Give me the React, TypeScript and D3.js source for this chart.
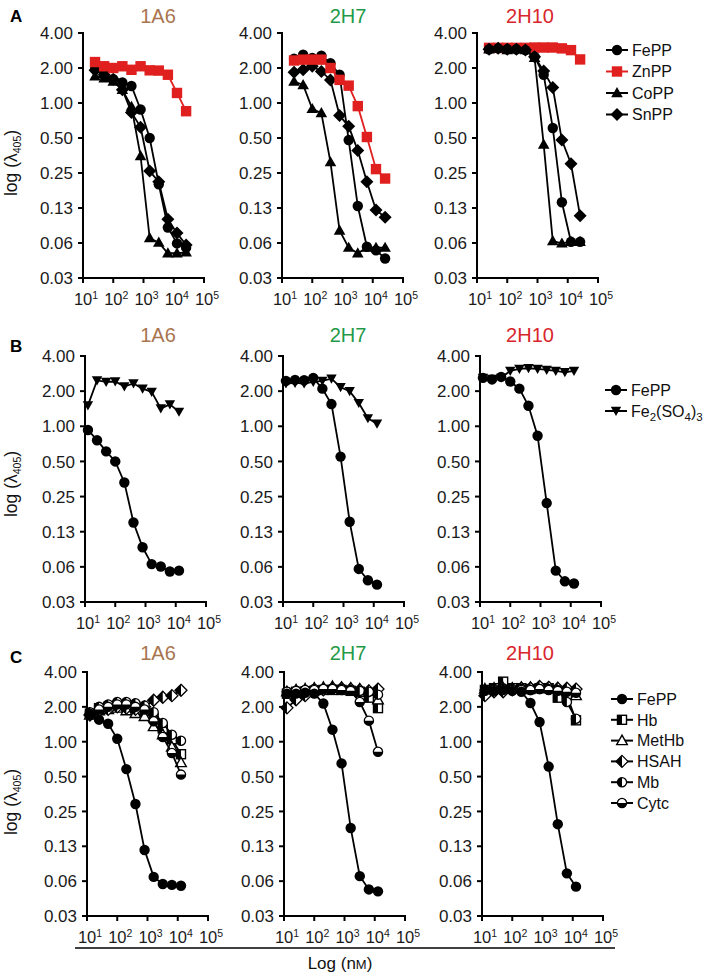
import React from 'react';
import * as d3 from 'd3';

// ---------- data ----------
const concA = [25, 50, 100, 200, 400, 800, 1600, 3200, 6400, 12800, 25600];
const concBC = [12.5, 25, 50, 100, 200, 400, 800, 1600, 3200, 6400, 12800];
const yTicks = [4, 2, 1, 0.5, 0.25, 0.125, 0.0625, 0.03125];
const yTickLabels = ['4.00', '2.00', '1.00', '0.50', '0.25', '0.13', '0.06', '0.03'];
const xTicks = [10, 100, 1000, 10000, 100000];
const xTickExps = ['1', '2', '3', '4', '5'];
const clones = ['1A6', '2H7', '2H10'];
const rowLetters = ['A', 'B', 'C'];
const seriesA = ['FePP', 'ZnPP', 'CoPP', 'SnPP'];
const seriesB = ['FePP', 'Fe2(SO4)3'];
const seriesC = ['FePP', 'Hb', 'MetHb', 'HSAH', 'Mb', 'Cytc'];

// Row A
const A_1A6_FePP = [1.95, 1.75, 1.6, 1.5, 1.4, 0.88, 0.5, 0.2, 0.085, 0.062, 0.057];
const A_1A6_ZnPP = [2.25, 2.07, 2.0, 2.07, 1.93, 2.07, 1.91, 1.9, 1.75, 1.22, 0.85];
const A_1A6_CoPP = [1.7, 1.63, 1.53, 1.3, 0.93, 0.35, 0.069, 0.063, 0.051, 0.051, 0.052];
const A_1A6_SnPP = [1.91, 1.75, 1.6, 1.3, 0.83, 0.62, 0.26, 0.21, 0.1, 0.076, 0.06];

const A_2H7_FePP = [2.4, 2.6, 2.44, 2.55, 2.2, 1.75, 0.48, 0.13, 0.058, 0.054, 0.046];
const A_2H7_ZnPP = [2.32, 2.36, 2.36, 2.36, 2.0, 1.58, 1.41, 0.94, 0.51, 0.27, 0.224];
const A_2H7_CoPP = [1.53, 1.43, 0.89, 0.82, 0.31, 0.08, 0.057, 0.051, 0.057, 0.057, 0.057];
const A_2H7_SnPP = [1.84, 1.93, 2.07, 1.87, 1.58, 0.78, 0.63, 0.39, 0.21, 0.12, 0.104];

const A_2H10_FePP = [2.9, 2.95, 2.9, 2.9, 2.85, 2.5, 1.75, 0.61, 0.14, 0.064, 0.064];
const A_2H10_ZnPP = [2.98, 2.98, 2.98, 2.98, 2.98, 3.0, 3.0, 3.0, 2.95, 2.85, 2.37];
const A_2H10_CoPP = [2.9, 2.95, 2.85, 2.9, 2.85, 2.45, 0.44, 0.065, 0.062, 0.064, 0.064];
const A_2H10_SnPP = [2.9, 2.95, 2.9, 2.9, 2.85, 2.5, 1.88, 1.36, 0.48, 0.3, 0.107];

// Row B
const B_1A6_FePP = [0.93, 0.76, 0.61, 0.5, 0.33, 0.15, 0.092, 0.066, 0.063, 0.057, 0.058];
const B_1A6_Fe2 = [1.51, 2.47, 2.4, 2.42, 2.19, 2.33, 2.1, 1.97, 1.42, 1.54, 1.33];
const B_2H7_FePP = [2.45, 2.5, 2.48, 2.6, 2.1, 1.55, 0.55, 0.152, 0.06, 0.048, 0.044];
const B_2H7_Fe2 = [2.32, 2.35, 2.32, 2.4, 2.45, 2.56, 2.16, 2.0, 1.58, 1.17, 1.05];
const B_2H10_FePP = [2.6, 2.52, 2.65, 2.42, 2.1, 1.5, 0.83, 0.22, 0.058, 0.047, 0.045];
const B_2H10_Fe2 = [2.6, 2.55, 2.6, 2.98, 3.1, 3.14, 3.1, 3.04, 2.98, 2.9, 2.98];

// Row C
const C_1A6_FePP = [1.75, 1.55, 1.43, 1.06, 0.58, 0.29, 0.116, 0.068, 0.059, 0.058, 0.057];
const C_1A6_Hb = [1.75, 1.95, 2.0, 2.05, 2.0, 2.0, 1.85, 1.6, 1.3, 1.05, 0.78];
const C_1A6_MetHb = [1.7, 1.85, 1.9, 1.95, 1.85, 1.75, 1.65, 1.35, 1.15, 0.9, 0.66];
const C_1A6_HSAH = [1.7, 1.85, 1.9, 2.0, 1.95, 1.9, 2.0, 2.28, 2.42, 2.5, 2.78];
const C_1A6_Mb = [1.8, 2.0, 2.1, 2.2, 2.2, 2.15, 2.05, 1.8, 1.45, 1.15, 1.02];
const C_1A6_Cytc = [1.7, 1.9, 2.0, 2.1, 2.1, 2.0, 1.9, 1.5, 1.1, 0.8, 0.52];

const C_2H7_FePP = [2.6, 2.6, 2.65, 2.6, 2.14, 1.27, 0.65, 0.18, 0.069, 0.053, 0.051];
const C_2H7_Hb = [2.6, 2.7, 2.7, 2.75, 2.8, 2.8, 2.8, 2.75, 2.7, 2.4, 1.95];
const C_2H7_MetHb = [2.7, 2.8, 2.85, 2.9, 2.95, 3.0, 2.95, 2.9, 2.85, 2.75, 2.3];
const C_2H7_HSAH = [1.96, 2.3, 2.5, 2.7, 2.8, 2.9, 2.9, 2.85, 2.8, 2.75, 2.85];
const C_2H7_Mb = [2.7, 2.75, 2.8, 2.85, 2.85, 2.9, 2.85, 2.8, 2.75, 2.7, 2.55];
const C_2H7_Cytc = [2.7, 2.75, 2.8, 2.8, 2.85, 2.85, 2.8, 2.75, 2.2, 1.52, 0.82];

const C_2H10_FePP = [2.78, 2.75, 2.8, 2.75, 2.7, 2.16, 1.48, 0.61, 0.194, 0.073, 0.056];
const C_2H10_Hb = [2.8, 2.9, 3.3, 2.9, 2.9, 2.85, 2.9, 2.9, 2.4, 2.5, 1.53];
const C_2H10_MetHb = [2.85, 2.9, 2.9, 2.9, 2.95, 2.95, 2.95, 2.9, 2.9, 2.85, 2.5];
const C_2H10_HSAH = [2.5, 2.7, 2.7, 2.8, 2.9, 2.9, 3.0, 2.95, 2.9, 2.9, 2.85];
const C_2H10_Mb = [2.8, 2.85, 2.9, 2.85, 2.85, 2.8, 2.85, 2.85, 2.8, 2.2, 1.58];
const C_2H10_Cytc = [2.75, 2.8, 2.85, 2.8, 2.8, 2.8, 2.85, 2.8, 2.75, 2.7, 2.65];

// ---------- styles ----------
const FONT = 'Liberation Sans, Arial, Helvetica, sans-serif';
const RED = '#E0201F';
const cloneColors = ['#A8754F', '#1F9A48', '#D9262C'];

type Marker = 'circle' | 'square' | 'triangle' | 'diamond' | 'tridown' | 'halfSquare' | 'openTriangle' | 'halfDiamond' | 'halfCircleL' | 'halfCircleB';

const markerOf: Record<string, Marker> = {
  FePP: 'circle', ZnPP: 'square', CoPP: 'triangle', SnPP: 'diamond', 'Fe2(SO4)3': 'tridown',
  Hb: 'halfSquare', MetHb: 'openTriangle', HSAH: 'halfDiamond', Mb: 'halfCircleL', Cytc: 'halfCircleB',
};
const colorOf = (name: string) => (name === 'ZnPP' ? RED : '#000');

function MarkerShape({ kind, x, y, color }: { kind: Marker; x: number; y: number; color: string }) {
  const t = `translate(${x},${y})`;
  switch (kind) {
    case 'circle':
      return <circle cx={x} cy={y} r={5.2} fill={color} />;
    case 'square':
      return <rect x={x - 5.2} y={y - 5.2} width={10.4} height={10.4} fill={color} />;
    case 'triangle':
      return <path transform={t} d="M0,-6L5.8,4.2L-5.8,4.2Z" fill={color} />;
    case 'diamond':
      return <path transform={t} d="M0,-6.5L6.5,0L0,6.5L-6.5,0Z" fill={color} />;
    case 'tridown':
      return <path transform={t} d="M0,5L5.2,-4.2L-5.2,-4.2Z" fill={color} />;
    case 'halfSquare':
      return (
        <g transform={t}>
          <rect x={-4.5} y={-4.5} width={9} height={9} fill="#fff" stroke="#000" strokeWidth={1.4} />
          <rect x={-4.5} y={-4.5} width={4.5} height={9} fill="#000" />
        </g>
      );
    case 'openTriangle':
      return <path transform={t} d="M0,-5.5L5.3,4L-5.3,4Z" fill="#fff" stroke="#000" strokeWidth={1.4} />;
    case 'halfDiamond':
      return (
        <g transform={t}>
          <path d="M0,-6L6,0L0,6L-6,0Z" fill="#fff" stroke="#000" strokeWidth={1.3} />
          <path d="M0,-6L0,6L-6,0Z" fill="#000" />
        </g>
      );
    case 'halfCircleL':
      return (
        <g transform={t}>
          <circle r={4.6} fill="#fff" stroke="#000" strokeWidth={1.3} />
          <path d="M0,-4.6A4.6,4.6 0 0 0 0,4.6Z" fill="#000" />
        </g>
      );
    case 'halfCircleB':
      return (
        <g transform={t}>
          <circle r={4.6} fill="#fff" stroke="#000" strokeWidth={1.3} />
          <path d="M-4.6,0A4.6,4.6 0 0 0 4.6,0Z" fill="#000" />
        </g>
      );
  }
  return null;
}

type Series = { name: string; values: number[] };

const rows = [
  { top: 33, bottom: 278, lefts: [83, 282, 477], titleY: 23, conc: concA },
  { top: 356, bottom: 602, lefts: [85, 283, 480], titleY: 342, conc: concBC },
  { top: 672, bottom: 916, lefts: [87, 284, 482], titleY: 660, conc: concBC },
];
const titleXs = [158, 348, 530];
const PW = 121;

const panelData: Series[][][] = [
  [
    [{ name: 'FePP', values: A_1A6_FePP }, { name: 'CoPP', values: A_1A6_CoPP }, { name: 'SnPP', values: A_1A6_SnPP }, { name: 'ZnPP', values: A_1A6_ZnPP }],
    [{ name: 'FePP', values: A_2H7_FePP }, { name: 'CoPP', values: A_2H7_CoPP }, { name: 'SnPP', values: A_2H7_SnPP }, { name: 'ZnPP', values: A_2H7_ZnPP }],
    [{ name: 'ZnPP', values: A_2H10_ZnPP }, { name: 'FePP', values: A_2H10_FePP }, { name: 'SnPP', values: A_2H10_SnPP }, { name: 'CoPP', values: A_2H10_CoPP }],
  ],
  [
    [{ name: 'Fe2(SO4)3', values: B_1A6_Fe2 }, { name: 'FePP', values: B_1A6_FePP }],
    [{ name: 'Fe2(SO4)3', values: B_2H7_Fe2 }, { name: 'FePP', values: B_2H7_FePP }],
    [{ name: 'Fe2(SO4)3', values: B_2H10_Fe2 }, { name: 'FePP', values: B_2H10_FePP }],
  ],
  [
    [{ name: 'Hb', values: C_1A6_Hb }, { name: 'MetHb', values: C_1A6_MetHb }, { name: 'HSAH', values: C_1A6_HSAH }, { name: 'Mb', values: C_1A6_Mb }, { name: 'Cytc', values: C_1A6_Cytc }, { name: 'FePP', values: C_1A6_FePP }],
    [{ name: 'Hb', values: C_2H7_Hb }, { name: 'MetHb', values: C_2H7_MetHb }, { name: 'HSAH', values: C_2H7_HSAH }, { name: 'Mb', values: C_2H7_Mb }, { name: 'Cytc', values: C_2H7_Cytc }, { name: 'FePP', values: C_2H7_FePP }],
    [{ name: 'Hb', values: C_2H10_Hb }, { name: 'MetHb', values: C_2H10_MetHb }, { name: 'HSAH', values: C_2H10_HSAH }, { name: 'Mb', values: C_2H10_Mb }, { name: 'Cytc', values: C_2H10_Cytc }, { name: 'FePP', values: C_2H10_FePP }],
  ],
];

const legends = [
  { names: seriesA, x: 617, y0: 50, dy: 21.5 },
  { names: seriesB, x: 616, y0: 390, dy: 21 },
  { names: seriesC, x: 622, y0: 699, dy: 20.8 },
];

function SeriesLabel({ name }: { name: string }) {
  if (name === 'Fe2(SO4)3') {
    return (
      <>
        Fe<tspan fontSize={11.5} dy={4}>2</tspan>
        <tspan dy={-4}>(SO</tspan>
        <tspan fontSize={11.5} dy={4}>4</tspan>
        <tspan dy={-4}>)</tspan>
        <tspan fontSize={11.5} dy={4}>3</tspan>
      </>
    );
  }
  return <>{name}</>;
}

function Panel({ row, col }: { row: number; col: number }) {
  const r = rows[row];
  const left = r.lefts[col];
  const x = d3.scaleLog().domain([10, 100000]).range([left, left + PW]);
  const y = d3.scaleLog().base(2).domain([0.03125, 4]).range([r.bottom, r.top]);
  const line = d3
    .line<[number, number]>()
    .x((d) => x(d[0]))
    .y((d) => y(d[1]));
  const series = panelData[row][col];
  return (
    <g>
      <text x={titleXs[col]} y={r.titleY} textAnchor="middle" fontSize={20} fill={cloneColors[col]} fontFamily={FONT}>
        {clones[col]}
      </text>
      {/* axes */}
      <line x1={left} x2={left} y1={r.top - 1} y2={r.bottom + 1} stroke="#000" strokeWidth={2} />
      <line x1={left - 1} x2={left + PW + 1} y1={r.bottom} y2={r.bottom} stroke="#000" strokeWidth={2} />
      {yTicks.map((t, i) => (
        <g key={'y' + i}>
          <line x1={left - 5} x2={left} y1={y(t)} y2={y(t)} stroke="#000" strokeWidth={2} />
          <text x={left - 10} y={y(t)} dy="0.36em" textAnchor="end" fontSize={17} fontFamily={FONT} fill="#1a1a1a">
            {yTickLabels[i]}
          </text>
        </g>
      ))}
      {xTicks.map((t, i) => (
        <g key={'x' + i}>
          <line x1={x(t)} x2={x(t)} y1={r.bottom} y2={r.bottom + 5} stroke="#000" strokeWidth={2} />
          <text x={x(t) + 3} y={r.bottom + 27} textAnchor="middle" fontSize={16.5} fontFamily={FONT} fill="#1a1a1a">
            10<tspan fontSize={10.5} dy={-6.5}>{xTickExps[i]}</tspan>
          </text>
        </g>
      ))}
      {series.map((s) => {
        const pts: [number, number][] = r.conc.map((c, i) => [c, s.values[i]]);
        const col2 = colorOf(s.name);
        return (
          <g key={s.name}>
            <path d={line(pts) || ''} fill="none" stroke={col2} strokeWidth={1.8} />
            {pts.map((p, i) => (
              <MarkerShape key={i} kind={markerOf[s.name]} x={x(p[0])} y={y(p[1])} color={col2} />
            ))}
          </g>
        );
      })}
    </g>
  );
}

function Legend({ idx }: { idx: number }) {
  const L = legends[idx];
  return (
    <g>
      {L.names.map((n, i) => {
        const yy = L.y0 + i * L.dy;
        const c = colorOf(n);
        return (
          <g key={n}>
            <line x1={L.x - 11} x2={L.x + 11} y1={yy} y2={yy} stroke={c} strokeWidth={2} />
            <MarkerShape kind={markerOf[n]} x={L.x} y={yy} color={c} />
            <text x={L.x + 15} y={yy} dy="0.36em" fontSize={16} fontFamily={FONT} fill="#111">
              <SeriesLabel name={n} />
            </text>
          </g>
        );
      })}
    </g>
  );
}

const letterYs = [22, 352, 663];
const axisTitleCenters = [163, 484, 802];

export default function App() {
  return (
    <svg width={709} height={975} style={{ position: 'absolute', left: 0, top: 0, background: '#fff' }}>
      <rect width={709} height={975} fill="#fff" />
      {rowLetters.map((l, i) => (
        <text key={l} x={10} y={letterYs[i]} fontSize={17} fontWeight="bold" fontFamily={FONT}>
          {l}
        </text>
      ))}
      {axisTitleCenters.map((cy, i) => (
        <text key={'yt' + i} transform={`translate(17,${cy}) rotate(-90)`} textAnchor="middle" fontSize={17.5} fontFamily={FONT} fill="#111">
          log (λ<tspan fontSize={10.5} dy={4}>405</tspan>
          <tspan dy={-4}>)</tspan>
        </text>
      ))}
      {[0, 1, 2].map((row) => [0, 1, 2].map((col) => <Panel key={row + '-' + col} row={row} col={col} />))}
      {[0, 1, 2].map((i) => (
        <Legend key={'lg' + i} idx={i} />
      ))}
      <line x1={75} x2={615} y1={948} y2={948} stroke="#000" strokeWidth={1.5} />
      <text x={340} y={969} textAnchor="middle" fontSize={17} fontFamily={FONT} fill="#111">
        Log (n<tspan fontSize={13}>M</tspan>)
      </text>
    </svg>
  );
}
